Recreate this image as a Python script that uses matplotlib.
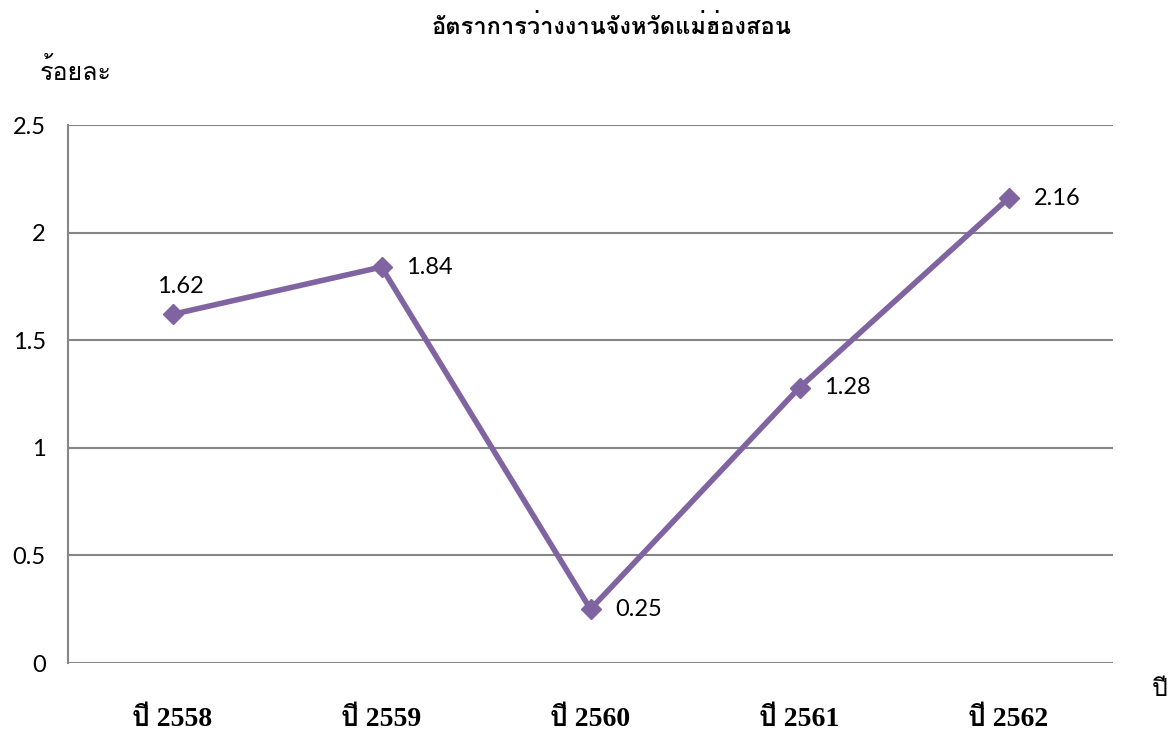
import numpy as np
import matplotlib
matplotlib.use("Agg")
import matplotlib.pyplot as plt
from matplotlib import font_manager
from matplotlib.ft2font import FT2Font

# หาแบบอักษรที่มีตัวอักษรไทย และมีตัวหนา
def find_thai_fonts():
    found = {}
    for f in font_manager.fontManager.ttflist:
        try:
            cmap = FT2Font(f.fname).get_charmap()
        except Exception:
            continue
        if ord('ร') in cmap and ord('ั') in cmap:
            w = f.weight if isinstance(f.weight, int) else (700 if 'bold' in str(f.weight) else 400)
            found[f.name] = max(found.get(f.name, 0), w)
    return found

thai = find_thai_fonts()
preferred = ['Noto Serif Thai', 'Norasi', 'Kinnari', 'Laksaman', 'TH Sarabun New',
             'Tlwg Typo', 'Garuda', 'Loma', 'Noto Sans Thai']
bold_ok = [n for n, w in thai.items() if w >= 600]
thai_family = next((p for p in preferred if p in bold_ok),
                   bold_ok[0] if bold_ok else (list(thai)[0] if thai else 'DejaVu Sans'))

years = ['ปี 2558', 'ปี 2559', 'ปี 2560', 'ปี 2561', 'ปี 2562']
rate = [1.62, 1.84, 0.25, 1.28, 2.16]
yticks = [0, 0.5, 1, 1.5, 2, 2.5]

num_family = 'Lato'
serif_thai = ['Liberation Serif', thai_family]

fig = plt.figure(figsize=(11.75, 7.4), dpi=100)
ax = fig.add_axes([68 / 1175, 1 - 663 / 740, (1113 - 68) / 1175, (663 - 125) / 740])

x = np.arange(len(years))
ax.plot(x, rate, color='#8064A2', lw=4, marker='D', ms=10, zorder=3)
for xi, v in zip(x, rate):
    if xi == 0:
        off = (-11, 20)
    else:
        off = (18, 0)
    ax.annotate(f'{v:.2f}', (xi, v), xytext=off, textcoords='offset points',
                fontsize=17, family=num_family, ha='left', va='center')

ax.set_xlim(-0.5, 4.5)
ax.set_ylim(0, 2.5)
ax.set_yticks(yticks)
ax.set_yticklabels([f'{t:g}' for t in yticks], family=num_family, fontsize=17)
ax.yaxis.grid(True, color='#868686', lw=1.5)
ax.set_axisbelow(True)
ax.tick_params(axis='y', length=0, pad=16)
ax.set_xticks(x)
ax.set_xticklabels(years, family=serif_thai, fontsize=20, fontweight='bold')
ax.tick_params(axis='x', length=0, pad=32)
for s in ['top', 'right', 'bottom']:
    ax.spines[s].set_visible(False)
ax.spines['left'].set_color('#868686')
ax.spines['left'].set_linewidth(1.5)

fig.text(612 / 1175, 1 - 27 / 740, 'อัตราการว่างงานจังหวัดแม่ฮ่องสอน', ha='center', va='center',
         family=serif_thai, fontsize=17, fontweight='bold')
fig.text(40 / 1175, 1 - 72 / 740, 'ร้อยละ', ha='left', va='center', family=serif_thai, fontsize=18)
fig.text(1152 / 1175, 1 - 690 / 740, 'ปี', ha='left', va='center', family=serif_thai, fontsize=18)

fig.savefig('out.png', dpi=100)
